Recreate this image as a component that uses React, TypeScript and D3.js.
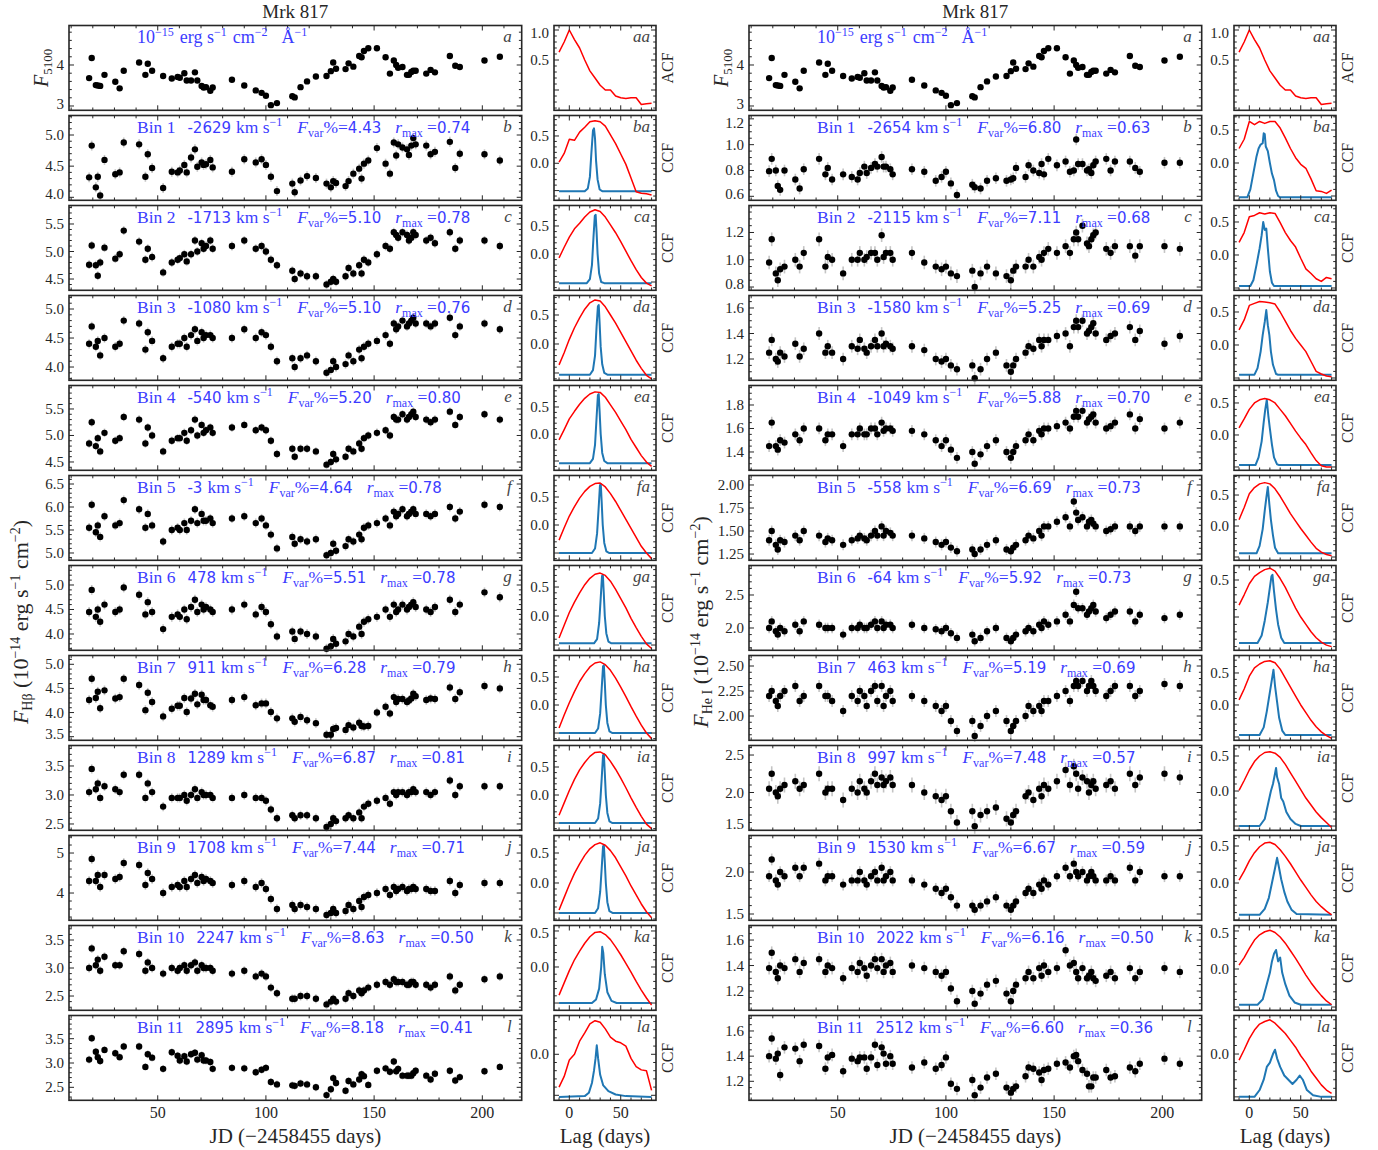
import React from 'react';
import * as d3 from 'd3';

// ---------------- DATA ----------------
const JD = [18.3,19.5,21.4,22.3,23.4,25.4,30.4,32.4,34.3,41.4,44.3,45.4,47.4,52.5,56.5,59.2,60.2,62.3,63.4,65.4,67.2,68.3,70.3,71.2,72.3,74.3,75.4,84.3,90.0,95.3,98.0,100.0,102.3,105.1,112.2,113.3,116.0,119.0,123.1,128.0,130.0,131.1,132.4,136.8,138.2,140.4,143.1,144.2,145.3,147.3,151.3,155.3,157.3,159.1,160.2,161.1,163.1,165.2,166.1,167.2,168.1,169.2,174.1,176.1,178.1,185.0,187.5,189.6,201.0,208.1];

const F5100 = [3.68,4.17,3.51,3.50,3.49,3.76,3.59,3.43,3.86,4.06,3.76,4.03,3.86,3.73,3.67,3.71,3.69,3.80,3.62,3.62,3.82,3.62,3.49,3.45,3.46,3.37,3.45,3.64,3.50,3.38,3.32,3.25,3.02,3.07,3.24,3.21,3.46,3.60,3.72,3.73,3.85,4.06,3.91,3.90,4.04,3.96,4.22,4.19,4.34,4.41,4.41,4.19,3.79,4.11,4.00,3.93,3.95,3.76,3.76,3.83,3.86,3.86,3.79,3.88,3.82,4.22,3.98,3.95,4.11,4.20];

const HB1 = [4.32,4.83,4.16,4.33,4.03,4.60,4.37,4.40,4.88,4.85,4.33,4.69,4.47,4.15,4.41,4.40,4.43,4.52,4.40,4.64,4.77,4.49,4.56,4.52,4.53,4.60,4.48,4.41,4.61,4.56,4.61,4.52,4.33,4.10,4.22,4.08,4.27,4.34,4.31,4.22,4.16,4.26,4.23,4.18,4.26,4.38,4.46,4.30,4.54,4.59,4.79,4.54,4.38,4.88,4.67,4.85,4.80,4.77,4.68,4.83,4.95,4.85,4.83,4.69,4.73,4.89,4.47,4.70,4.69,4.59];
const HB2 = [4.76,5.11,4.75,4.56,4.80,5.07,4.87,4.95,5.38,5.18,4.85,5.05,4.90,4.62,4.80,4.85,4.88,4.95,4.82,4.95,5.20,5.00,5.15,5.05,5.10,5.20,5.05,5.10,5.20,5.05,5.10,5.00,4.85,4.75,4.65,4.50,4.60,4.55,4.55,4.40,4.45,4.50,4.45,4.55,4.70,4.60,4.75,4.60,4.85,4.80,4.95,5.10,5.05,5.35,5.30,5.25,5.35,5.30,5.20,5.25,5.35,5.30,5.20,5.25,5.15,5.35,5.05,5.20,5.20,5.10];
const HB3 = [4.40,4.70,4.35,4.45,4.20,4.50,4.35,4.40,4.80,4.75,4.30,4.60,4.45,4.15,4.35,4.40,4.40,4.50,4.35,4.55,4.65,4.45,4.60,4.50,4.55,4.55,4.50,4.50,4.65,4.50,4.60,4.55,4.35,4.10,4.15,4.00,4.15,4.20,4.10,3.90,3.95,4.10,4.00,4.05,4.20,4.10,4.30,4.15,4.35,4.40,4.45,4.55,4.40,4.75,4.65,4.70,4.80,4.70,4.75,4.80,4.85,4.75,4.75,4.70,4.75,4.85,4.55,4.70,4.75,4.65];
const HB4 = [4.85,5.25,4.80,4.95,4.70,5.05,4.90,4.95,5.35,5.30,4.85,5.15,5.00,4.70,4.90,4.95,4.95,5.05,4.90,5.10,5.30,5.00,5.20,5.05,5.10,5.15,5.05,5.15,5.20,5.10,5.15,5.10,4.90,4.65,4.75,4.60,4.75,4.75,4.70,4.45,4.50,4.65,4.55,4.60,4.75,4.70,4.85,4.75,4.95,5.00,5.05,5.10,5.00,5.35,5.30,5.30,5.40,5.30,5.35,5.40,5.45,5.35,5.30,5.25,5.30,5.45,5.20,5.35,5.40,5.30];
const HB5 = [5.55,6.05,5.45,5.60,5.35,5.80,5.60,5.65,6.15,5.95,5.55,5.85,5.60,5.25,5.50,5.55,5.50,5.65,5.50,5.70,5.95,5.65,5.85,5.70,5.70,5.75,5.65,5.75,5.80,5.65,5.75,5.60,5.40,5.10,5.35,5.20,5.30,5.25,5.30,4.95,5.00,5.20,5.05,5.15,5.30,5.25,5.40,5.30,5.55,5.60,5.65,5.75,5.60,5.90,5.80,5.85,5.95,5.80,5.85,5.90,5.95,5.85,5.85,5.80,5.85,6.00,5.75,5.90,6.05,6.00];
const HB6 = [4.45,4.90,4.35,4.50,4.25,4.60,4.45,4.50,4.95,4.80,4.40,4.65,4.45,4.10,4.35,4.40,4.35,4.50,4.30,4.55,4.70,4.45,4.60,4.50,4.55,4.50,4.45,4.50,4.60,4.40,4.55,4.45,4.20,3.95,4.05,3.90,4.05,4.00,3.95,3.70,3.75,3.90,3.80,3.85,4.00,3.95,4.15,4.00,4.25,4.30,4.35,4.50,4.35,4.60,4.45,4.50,4.60,4.50,4.55,4.60,4.65,4.55,4.50,4.45,4.55,4.70,4.45,4.60,4.85,4.75];
const HB7 = [4.26,4.70,4.30,4.43,4.09,4.46,4.29,4.32,4.70,4.57,4.05,4.41,4.22,3.92,4.08,4.14,4.14,4.30,4.01,4.29,4.39,4.17,4.37,4.26,4.26,4.15,4.12,4.26,4.32,4.15,4.19,4.19,4.01,3.88,3.88,3.81,3.91,3.84,3.78,3.54,3.54,3.66,3.68,3.64,3.74,3.69,3.79,3.72,3.71,3.72,4.00,4.12,3.98,4.32,4.22,4.28,4.28,4.22,4.25,4.29,4.39,4.34,4.26,4.29,4.28,4.52,4.28,4.42,4.55,4.50];
const HB8 = [3.05,3.45,3.10,3.20,2.95,3.15,3.10,3.05,3.35,3.35,2.95,3.20,3.05,2.80,2.95,2.95,2.95,3.00,2.90,3.00,3.10,2.95,3.05,3.00,3.00,3.00,2.95,2.95,3.00,2.95,2.95,2.90,2.75,2.60,2.65,2.60,2.65,2.65,2.60,2.45,2.50,2.60,2.55,2.60,2.65,2.60,2.70,2.60,2.80,2.85,2.90,2.95,2.85,3.05,3.00,3.05,3.05,3.00,3.05,3.05,3.10,3.05,3.05,3.00,3.05,3.25,3.00,3.15,3.15,3.15];
const HB9 = [4.30,4.85,4.30,4.45,4.15,4.45,4.35,4.40,4.75,4.70,4.20,4.50,4.35,4.00,4.15,4.20,4.15,4.30,4.15,4.35,4.45,4.25,4.40,4.30,4.35,4.30,4.25,4.20,4.30,4.15,4.25,4.10,3.85,3.60,3.70,3.60,3.70,3.65,3.60,3.45,3.50,3.60,3.50,3.55,3.70,3.60,3.80,3.65,3.90,3.95,4.00,4.10,3.95,4.15,4.05,4.10,4.15,4.05,4.10,4.10,4.15,4.10,4.10,4.05,4.05,4.30,4.00,4.20,4.25,4.25];
const HB10 = [3.00,3.35,3.05,3.15,2.95,3.20,3.05,3.05,3.30,3.25,2.95,3.10,3.00,2.90,3.00,2.95,3.00,3.05,2.95,3.05,3.10,2.95,3.05,3.00,3.00,3.00,2.95,2.90,2.95,2.85,2.90,2.85,2.65,2.55,2.45,2.45,2.50,2.50,2.45,2.35,2.40,2.45,2.40,2.45,2.55,2.50,2.60,2.55,2.60,2.65,2.70,2.75,2.70,2.80,2.75,2.75,2.75,2.70,2.70,2.75,2.75,2.70,2.70,2.65,2.70,2.85,2.60,2.70,2.80,2.85];
const HB11 = [3.07,3.51,3.23,3.12,3.04,3.27,3.20,3.12,3.34,3.34,2.92,3.18,3.11,2.88,3.22,3.15,3.05,3.14,3.03,3.18,3.21,3.07,3.16,3.05,3.05,3.02,2.88,2.90,2.89,2.81,2.86,2.90,2.61,2.56,2.54,2.53,2.58,2.56,2.50,2.34,2.46,2.69,2.59,2.43,2.63,2.56,2.66,2.77,2.73,2.55,2.84,2.89,2.82,3.03,2.83,2.88,2.74,2.74,2.74,2.74,2.79,2.84,2.74,2.66,2.78,2.84,2.64,2.71,2.83,2.92];

const HE1 = [0.795,0.89,0.80,0.68,0.65,0.80,0.73,0.66,0.81,0.89,0.77,0.82,0.73,0.77,0.75,0.73,0.78,0.83,0.78,0.82,0.85,0.83,0.905,0.83,0.83,0.81,0.77,0.81,0.79,0.72,0.75,0.79,0.70,0.61,0.69,0.67,0.66,0.72,0.74,0.72,0.73,0.74,0.82,0.75,0.84,0.80,0.78,0.85,0.77,0.89,0.84,0.87,0.79,0.80,1.04,0.85,0.85,0.80,0.81,0.78,0.84,0.87,0.89,0.80,0.87,0.87,0.82,0.79,0.86,0.86];
const HE2 = [0.98,1.15,0.90,0.85,0.93,0.95,1.00,0.95,1.05,1.15,0.95,1.02,1.00,0.90,1.00,1.00,1.05,1.00,1.02,1.05,1.05,1.00,1.18,1.02,1.05,1.05,1.00,1.05,0.98,0.95,0.93,0.95,0.90,0.88,0.92,0.80,0.90,0.95,0.90,0.88,0.85,0.92,0.95,0.95,1.00,0.95,1.02,1.00,1.05,1.08,1.05,1.10,1.05,1.15,1.20,1.15,1.25,1.12,1.10,1.15,1.18,1.20,1.08,1.05,1.10,1.10,1.03,1.10,1.10,1.08];
const HE3 = [1.25,1.35,1.20,1.18,1.25,1.22,1.32,1.22,1.28,1.40,1.25,1.30,1.25,1.20,1.30,1.28,1.35,1.28,1.25,1.30,1.35,1.30,1.40,1.30,1.32,1.30,1.28,1.30,1.27,1.20,1.18,1.20,1.15,1.12,1.15,1.05,1.12,1.20,1.25,1.15,1.10,1.15,1.20,1.25,1.30,1.28,1.35,1.30,1.35,1.35,1.38,1.40,1.30,1.45,1.50,1.45,1.50,1.40,1.42,1.45,1.48,1.40,1.35,1.38,1.40,1.45,1.35,1.42,1.32,1.38];
const HE4 = [1.45,1.65,1.45,1.42,1.50,1.48,1.55,1.50,1.60,1.60,1.50,1.55,1.55,1.45,1.55,1.55,1.60,1.55,1.55,1.60,1.60,1.55,1.65,1.58,1.60,1.60,1.58,1.58,1.55,1.50,1.45,1.50,1.42,1.35,1.40,1.30,1.38,1.45,1.50,1.40,1.35,1.40,1.45,1.50,1.55,1.50,1.58,1.55,1.60,1.60,1.62,1.65,1.60,1.70,1.75,1.70,1.75,1.65,1.68,1.70,1.72,1.65,1.60,1.62,1.65,1.72,1.60,1.68,1.60,1.65];
const HE5 = [1.40,1.50,1.35,1.30,1.40,1.38,1.45,1.40,1.50,1.45,1.38,1.42,1.40,1.35,1.40,1.42,1.45,1.42,1.40,1.45,1.50,1.45,1.55,1.45,1.50,1.48,1.45,1.45,1.42,1.38,1.35,1.38,1.32,1.28,1.30,1.25,1.30,1.35,1.40,1.30,1.28,1.32,1.35,1.40,1.45,1.42,1.50,1.45,1.55,1.55,1.60,1.65,1.55,1.82,1.70,1.62,1.65,1.55,1.60,1.62,1.58,1.55,1.50,1.52,1.55,1.55,1.50,1.55,1.55,1.55];
const HE6 = [2.00,2.10,1.95,1.90,2.00,1.95,2.05,1.95,2.10,2.05,2.00,2.00,2.00,1.90,2.00,2.00,2.05,2.00,2.00,2.05,2.10,2.00,2.10,2.00,2.05,2.05,2.00,2.05,2.00,1.98,1.95,2.00,1.92,1.85,1.90,1.80,1.85,1.95,2.00,1.85,1.80,1.85,1.90,1.95,2.00,1.95,2.05,2.00,2.10,2.05,2.10,2.20,2.10,2.35,2.55,2.30,2.30,2.20,2.25,2.30,2.35,2.25,2.15,2.20,2.25,2.25,2.10,2.20,2.15,2.20];
const HE7 = [2.20,2.25,2.15,2.10,2.20,2.25,2.30,2.15,2.20,2.30,2.20,2.20,2.15,2.05,2.20,2.15,2.25,2.20,2.10,2.25,2.30,2.15,2.30,2.10,2.20,2.25,2.15,2.20,2.15,2.10,2.05,2.10,1.95,1.85,1.95,1.80,1.90,2.00,2.05,1.95,1.85,1.90,1.95,2.00,2.10,2.05,2.10,2.05,2.15,2.15,2.20,2.25,2.15,2.30,2.35,2.30,2.35,2.25,2.30,2.35,2.30,2.25,2.20,2.25,2.30,2.30,2.20,2.25,2.32,2.30];
const HE8 = [2.05,2.25,2.00,1.95,2.05,2.10,2.15,2.05,2.10,2.25,2.00,2.05,2.05,1.90,2.05,2.00,2.15,2.05,2.00,2.15,2.25,2.10,2.20,2.10,2.15,2.20,2.10,2.10,2.00,1.95,1.90,1.95,1.75,1.60,1.75,1.55,1.70,1.75,1.80,1.65,1.60,1.70,1.75,1.95,2.00,1.90,2.05,1.95,2.10,2.05,2.15,2.30,2.10,2.35,2.25,2.05,2.20,2.15,2.00,2.10,2.15,2.05,2.10,2.15,2.05,2.25,2.10,2.20,2.25,2.20];
const HE9 = [1.95,2.15,1.90,1.85,2.00,1.95,2.05,1.95,2.05,2.10,1.90,1.95,1.95,1.85,1.90,1.90,2.00,1.90,1.85,1.95,2.00,1.90,2.05,1.90,1.95,2.00,1.90,1.90,1.85,1.80,1.75,1.80,1.70,1.60,1.60,1.55,1.60,1.65,1.70,1.60,1.55,1.60,1.65,1.75,1.80,1.75,1.85,1.80,1.90,1.85,1.95,2.05,1.95,2.10,2.00,1.95,2.00,1.90,1.95,2.00,1.95,1.90,1.90,1.95,1.90,2.05,1.90,2.00,1.95,1.95];
const HE10 = [1.38,1.50,1.35,1.30,1.40,1.38,1.45,1.35,1.42,1.45,1.35,1.40,1.38,1.30,1.38,1.35,1.42,1.38,1.32,1.40,1.45,1.38,1.45,1.35,1.40,1.42,1.35,1.40,1.38,1.35,1.32,1.35,1.22,1.12,1.20,1.10,1.18,1.25,1.28,1.18,1.12,1.20,1.25,1.30,1.35,1.30,1.38,1.32,1.40,1.35,1.38,1.52,1.40,1.42,1.35,1.30,1.38,1.30,1.32,1.35,1.30,1.28,1.32,1.35,1.30,1.38,1.30,1.35,1.38,1.35];
const HE11 = [1.40,1.54,1.38,1.42,1.25,1.47,1.46,1.36,1.49,1.48,1.30,1.39,1.41,1.28,1.38,1.36,1.39,1.39,1.30,1.39,1.49,1.33,1.47,1.42,1.34,1.40,1.34,1.31,1.35,1.30,1.33,1.39,1.18,1.14,1.21,1.09,1.15,1.23,1.26,1.15,1.11,1.14,1.16,1.24,1.31,1.30,1.27,1.21,1.29,1.30,1.34,1.35,1.31,1.40,1.41,1.36,1.29,1.26,1.16,1.16,1.23,1.23,1.29,1.23,1.24,1.31,1.28,1.34,1.38,1.34];

const HB_VEL = ['-2629','-1713','-1080','-540','-3','478','911','1289','1708','2247','2895'];
const HB_FVAR = ['4.43','5.10','5.10','5.20','4.64','5.51','6.28','6.87','7.44','8.63','8.18'];
const HB_RMAX = ['0.74','0.78','0.76','0.80','0.78','0.78','0.79','0.81','0.71','0.50','0.41'];
const HE_VEL = ['-2654','-2115','-1580','-1049','-558','-64','463','997','1530','2022','2512'];
const HE_FVAR = ['6.80','7.11','5.25','5.88','6.69','5.92','5.19','7.48','6.67','6.16','6.60'];
const HE_RMAX = ['0.63','0.68','0.69','0.70','0.73','0.73','0.69','0.57','0.59','0.50','0.36'];

const LETTERS = ['a','b','c','d','e','f','g','h','i','j','k','l'];

const HB_YDOM = [[2.895,4.963],[3.952,5.313],[4.295,5.836],[3.771,5.233],[4.343,5.943],[4.841,6.685],[3.667,5.398],[3.425,5.182],[2.391,3.853],[3.318,5.438],[2.245,3.759],[2.233,3.977]];
const HB_YSTEP = [1,0.5,0.5,0.5,0.5,0.5,0.5,0.5,0.5,1,0.5,0.5];
const HB_ERR = [0.03,0.08,0.08,0.08,0.08,0.1,0.1,0.1,0.08,0.12,0.08,0.08];
const HE_YDOM = [[2.895,4.963],[0.569,1.226],[0.776,1.398],[1.033,1.698],[1.244,1.966],[1.182,2.103],[1.662,2.947],[1.757,2.605],[1.496,2.627],[1.425,2.435],[1.049,1.714],[1.049,1.723]];
const HE_YSTEP = [1,0.2,0.2,0.2,0.2,0.25,0.5,0.25,0.5,0.5,0.2,0.2];
const HE_ERR = [0.03,0.045,0.05,0.05,0.05,0.06,0.08,0.06,0.1,0.07,0.05,0.05];

const LAGS = [-10,-5,0,5,10,15,20,25,30,35,40,45,50,55,60,65,70,75,80];
const ACF = [0.63,0.80,1.0,0.84,0.70,0.50,0.32,0.20,0.08,0.0,0.0,-0.10,-0.13,-0.14,-0.13,-0.13,-0.24,-0.23,-0.22];
const HB_CCF = [
  [0.02,0.18,0.44,0.42,0.57,0.66,0.76,0.78,0.76,0.68,0.52,0.36,0.17,-0.02,-0.27,-0.52,-0.55,-0.56,-0.58],
  [-0.07,0.12,0.30,0.45,0.55,0.66,0.75,0.79,0.76,0.66,0.52,0.38,0.22,0.05,-0.12,-0.28,-0.42,-0.52,-0.57],
  [-0.36,-0.15,0.08,0.28,0.45,0.60,0.71,0.76,0.74,0.64,0.50,0.36,0.20,0.04,-0.12,-0.28,-0.42,-0.54,-0.60],
  [-0.11,0.08,0.28,0.42,0.55,0.66,0.74,0.78,0.77,0.68,0.54,0.40,0.24,0.08,-0.10,-0.25,-0.40,-0.52,-0.60],
  [-0.27,-0.05,0.16,0.33,0.48,0.60,0.69,0.74,0.75,0.68,0.56,0.42,0.26,0.10,-0.06,-0.22,-0.38,-0.50,-0.60],
  [-0.38,-0.16,0.06,0.24,0.40,0.54,0.65,0.72,0.74,0.70,0.60,0.46,0.30,0.14,-0.04,-0.20,-0.35,-0.48,-0.56],
  [-0.41,-0.18,0.04,0.24,0.42,0.56,0.68,0.75,0.77,0.72,0.62,0.48,0.32,0.15,-0.03,-0.20,-0.36,-0.50,-0.60],
  [-0.36,-0.14,0.08,0.28,0.45,0.58,0.69,0.76,0.77,0.72,0.60,0.46,0.30,0.13,-0.05,-0.22,-0.38,-0.52,-0.60],
  [-0.45,-0.24,-0.03,0.16,0.32,0.46,0.57,0.64,0.67,0.63,0.54,0.42,0.27,0.12,-0.05,-0.20,-0.35,-0.48,-0.58],
  [-0.39,-0.22,-0.05,0.10,0.22,0.33,0.42,0.48,0.49,0.45,0.38,0.28,0.17,0.05,-0.07,-0.20,-0.32,-0.43,-0.53],
  [-0.40,-0.27,-0.07,0.0,0.16,0.26,0.37,0.41,0.39,0.31,0.21,0.16,0.14,0.10,-0.05,-0.15,-0.19,-0.20,-0.44],
];
const HE_CCF = [
  [0.22,0.36,0.63,0.58,0.63,0.60,0.63,0.63,0.53,0.38,0.22,0.08,-0.02,-0.08,-0.24,-0.42,-0.43,-0.46,-0.41],
  [0.19,0.34,0.58,0.60,0.64,0.62,0.64,0.63,0.49,0.34,0.22,0.12,-0.05,-0.21,-0.28,-0.36,-0.40,-0.34,-0.36],
  [0.23,0.38,0.60,0.63,0.66,0.65,0.64,0.62,0.50,0.36,0.22,0.10,0.0,-0.10,-0.25,-0.40,-0.44,-0.47,-0.48],
  [0.11,0.25,0.40,0.50,0.55,0.57,0.55,0.50,0.40,0.30,0.18,0.06,-0.05,-0.15,-0.28,-0.40,-0.48,-0.50,-0.50],
  [0.10,0.30,0.52,0.62,0.68,0.70,0.68,0.60,0.48,0.34,0.20,0.08,-0.04,-0.15,-0.26,-0.36,-0.42,-0.46,-0.48],
  [0.16,0.30,0.45,0.55,0.60,0.64,0.66,0.62,0.52,0.40,0.26,0.12,0.0,-0.10,-0.20,-0.28,-0.34,-0.38,-0.40],
  [0.08,0.25,0.45,0.58,0.64,0.68,0.69,0.66,0.56,0.42,0.28,0.14,0.0,-0.12,-0.24,-0.34,-0.42,-0.48,-0.52],
  [0.01,0.15,0.30,0.42,0.50,0.55,0.56,0.54,0.48,0.38,0.26,0.14,0.02,-0.10,-0.20,-0.30,-0.38,-0.45,-0.52],
  [0.04,0.16,0.30,0.41,0.49,0.54,0.55,0.52,0.45,0.36,0.26,0.15,0.04,-0.06,-0.16,-0.25,-0.32,-0.38,-0.43],
  [0.05,0.15,0.27,0.38,0.45,0.49,0.51,0.48,0.42,0.34,0.24,0.14,0.03,-0.08,-0.18,-0.27,-0.35,-0.42,-0.47],
  [-0.07,0.05,0.18,0.28,0.35,0.38,0.40,0.36,0.30,0.24,0.16,0.08,-0.02,-0.10,-0.20,-0.28,-0.36,-0.42,-0.46],
];
const HB_CCCD = [
  [[-10,-0.51],[15,-0.51],[18,-0.46],[20,-0.25],[21.5,0.2],[23,0.6],[24,0.64],[25,0.45],[26,0.05],[27.5,-0.3],[29.5,-0.48],[32,-0.51],[80,-0.51]],
  [[-10,-0.52],[17,-0.52],[20,-0.45],[22,-0.2],[23.5,0.3],[24.8,0.68],[25.6,0.7],[26.5,0.4],[27.5,0.0],[29,-0.35],[31,-0.5],[34,-0.52],[80,-0.52]],
  [[-10,-0.53],[20,-0.53],[23,-0.45],[25,-0.2],[26.5,0.3],[27.8,0.65],[28.6,0.67],[29.5,0.35],[30.5,-0.05],[32,-0.35],[34,-0.5],[37,-0.53],[80,-0.53]],
  [[-10,-0.54],[20,-0.54],[23,-0.46],[25,-0.2],[26.5,0.3],[27.8,0.72],[28.6,0.74],[29.5,0.4],[30.5,0.0],[32,-0.35],[34,-0.5],[37,-0.54],[80,-0.54]],
  [[-10,-0.5],[22,-0.5],[25,-0.42],[27,-0.15],[28.5,0.3],[29.8,0.71],[30.6,0.73],[31.5,0.4],[32.5,0.0],[34,-0.32],[36,-0.47],[39,-0.5],[80,-0.5]],
  [[-10,-0.47],[24,-0.47],[27,-0.4],[29,-0.12],[30.5,0.3],[31.8,0.69],[32.6,0.71],[33.5,0.4],[34.5,0.0],[36,-0.3],[38,-0.44],[41,-0.47],[80,-0.47]],
  [[-10,-0.5],[25,-0.5],[28,-0.42],[30,-0.15],[31.5,0.3],[32.8,0.69],[33.6,0.71],[34.5,0.4],[35.5,0.0],[37,-0.32],[39,-0.47],[42,-0.5],[80,-0.5]],
  [[-10,-0.5],[25,-0.5],[28,-0.42],[30,-0.15],[31.5,0.3],[32.8,0.71],[33.6,0.73],[34.5,0.4],[35.5,0.0],[37,-0.32],[39,-0.47],[42,-0.5],[80,-0.5]],
  [[-10,-0.5],[25,-0.5],[28,-0.42],[30,-0.15],[31.5,0.25],[32.8,0.61],[33.6,0.63],[34.5,0.35],[35.5,0.0],[37,-0.32],[39,-0.47],[42,-0.5],[80,-0.5]],
  [[-10,-0.5],[22,-0.5],[26,-0.45],[29,-0.3],[31,0.0],[32,0.28],[33,0.2],[34.5,-0.1],[37,-0.35],[41,-0.47],[46,-0.5],[80,-0.5]],
  [[-10,-0.52],[15,-0.51],[19,-0.47],[22,-0.35],[24,-0.2],[25.5,-0.05],[26.7,0.11],[28,-0.05],[30,-0.25],[33,-0.38],[38,-0.45],[45,-0.49],[55,-0.51],[80,-0.52]],
];
const HE_CCCD = [
  [[-10,-0.52],[-2,-0.52],[1,-0.4],[4,-0.15],[7,0.1],[9,0.22],[11,0.28],[13,0.3],[14,0.45],[15,0.44],[16,0.25],[18,0.18],[20,0.0],[22,-0.16],[24,-0.26],[26,-0.42],[28,-0.5],[30,-0.52],[80,-0.52]],
  [[-10,-0.47],[1,-0.47],[4,-0.38],[7,-0.15],[10,0.1],[12,0.3],[13.5,0.5],[15,0.38],[16.5,0.4],[18,0.1],[20,-0.25],[22,-0.42],[24,-0.47],[80,-0.47]],
  [[-10,-0.45],[5,-0.45],[8,-0.35],[11,-0.1],[13,0.15],[15,0.35],[16.5,0.53],[18,0.3],[19.5,0.15],[21,-0.1],[23,-0.3],[26,-0.44],[28,-0.45],[80,-0.45]],
  [[-10,-0.47],[6,-0.47],[9,-0.35],[12,-0.1],[14,0.2],[15.5,0.4],[17,0.55],[18.5,0.3],[20,0.1],[22,-0.15],[24,-0.35],[27,-0.46],[29,-0.47],[80,-0.47]],
  [[-10,-0.44],[7,-0.44],[10,-0.32],[13,-0.05],[15,0.25],[16.5,0.45],[18,0.63],[19.5,0.35],[21,0.1],[23,-0.15],[25,-0.35],[28,-0.44],[80,-0.44]],
  [[-10,-0.35],[8,-0.35],[12,-0.25],[15,-0.05],[18,0.2],[20,0.4],[21.5,0.55],[22.5,0.57],[24,0.35],[26,0.1],[28,-0.1],[31,-0.28],[34,-0.35],[80,-0.35]],
  [[-10,-0.47],[10,-0.47],[14,-0.35],[17,-0.1],[20,0.2],[22,0.4],[23.5,0.55],[25,0.3],[27,0.05],[29,-0.2],[32,-0.4],[35,-0.47],[80,-0.47]],
  [[-10,-0.5],[10,-0.5],[15,-0.4],[18,-0.2],[21,0.0],[23,0.1],[25,0.25],[26,0.33],[27,0.2],[29,0.1],[31,-0.1],[33,-0.15],[36,-0.3],[40,-0.4],[45,-0.47],[50,-0.5],[80,-0.5]],
  [[-10,-0.43],[10,-0.43],[15,-0.35],[19,-0.2],[22,0.0],[25,0.2],[27,0.34],[29,0.2],[31,0.05],[34,-0.12],[37,-0.25],[41,-0.36],[46,-0.42],[80,-0.43]],
  [[-10,-0.47],[8,-0.47],[13,-0.4],[17,-0.2],[20,-0.05],[22,0.1],[24,0.2],[26,0.25],[28,0.1],[30,0.15],[32,-0.05],[35,-0.2],[39,-0.35],[44,-0.44],[50,-0.47],[80,-0.47]],
  [[-10,-0.5],[5,-0.5],[10,-0.42],[14,-0.3],[17,-0.15],[20,-0.1],[23,0.0],[25,0.05],[27,-0.05],[30,-0.15],[34,-0.25],[38,-0.3],[42,-0.35],[46,-0.3],[49,-0.25],[52,-0.3],[56,-0.42],[62,-0.48],[70,-0.5],[80,-0.5]],
];
const HB_CDOM = [[-0.338,1.075],[-0.678,0.875],[-0.648,0.866],[-0.626,0.836],[-0.672,0.898],[-0.63,0.884],[-0.591,0.871],[-0.63,0.884],[-0.63,0.884],[-0.622,0.792],[-0.601,0.576],[-0.561,0.473]];
const HE_CDOM = [[-0.338,1.075],[-0.565,0.72],[-0.535,0.75],[-0.535,0.75],[-0.552,0.773],[-0.553,0.815],[-0.45,0.696],[-0.552,0.773],[-0.561,0.65],[-0.504,0.642],[-0.543,0.572],[-0.54,0.45]];

const JD_DOMAIN = [9.0, 218.2];
const LAG_DOMAIN = [-14.9, 84.3];
const JD_TICKS = [50, 100, 150, 200];
const LAG_TICKS = [0, 50];

// ---------------- STYLE / LAYOUT ----------------
const SERIF = '"Liberation Serif", "Times New Roman", serif';
const SANS = '"DejaVu Sans", sans-serif';
const INK = '#262626';
const BLUE_TXT = '#3c3cff';
const LC_L = 69, LC_R = 521.7, CF_L = 554, CF_R = 656, SHIFT = 680;
const TOP0 = 25.5, PITCH = 90, PH = 84.8;
const TICK_FS = 15;

function tickRange(lo: number, hi: number, step: number) {
  const out: number[] = [];
  for (let k = Math.ceil(lo / step - 1e-6); k * step <= hi + 1e-9; k++) out.push(+(k * step).toFixed(6));
  return out;
}
function minorOf(step: number) {
  const e = Math.pow(10, Math.floor(Math.log10(step) + 1e-9));
  const m = Math.round((step / e) * 100) / 100;
  return step / (m === 1 || m === 5 ? 5 : 4);
}
function decs(step: number) {
  const s = String(step);
  return s.includes('.') ? s.split('.')[1].length : 0;
}
// keep a tick label inside its own panel's vertical band
function labelY(y: number, top: number, bot: number) {
  return Math.min(Math.max(y, top + 7), bot - 6) + 5;
}

function Frame({ x0, x1, top, bot, xs, ys, xTicks, xMinor, yTicks, yMinor }: any) {
  const els: any[] = [];
  const M = 5, m = 2.8;
  xTicks.forEach((v: number, i: number) => {
    const X = xs(v);
    els.push(<line key={'xb' + i} x1={X} x2={X} y1={bot} y2={bot - M} />);
    els.push(<line key={'xt' + i} x1={X} x2={X} y1={top} y2={top + M} />);
  });
  xMinor.forEach((v: number, i: number) => {
    const X = xs(v);
    els.push(<line key={'xmb' + i} x1={X} x2={X} y1={bot} y2={bot - m} />);
    els.push(<line key={'xmt' + i} x1={X} x2={X} y1={top} y2={top + m} />);
  });
  yTicks.forEach((v: number, i: number) => {
    const Y = ys(v);
    els.push(<line key={'yl' + i} x1={x0} x2={x0 + M} y1={Y} y2={Y} />);
    els.push(<line key={'yr' + i} x1={x1} x2={x1 - M} y1={Y} y2={Y} />);
  });
  yMinor.forEach((v: number, i: number) => {
    const Y = ys(v);
    els.push(<line key={'yml' + i} x1={x0} x2={x0 + m} y1={Y} y2={Y} />);
    els.push(<line key={'ymr' + i} x1={x1} x2={x1 - m} y1={Y} y2={Y} />);
  });
  return (
    <g stroke={INK} strokeWidth={1}>
      {els}
      <rect x={x0} y={top} width={x1 - x0} height={bot - top} fill="none" strokeWidth={1.6} />
    </g>
  );
}

function Annot({ x, y, bin, vel, fvar, rmax }: any) {
  return (
    <text x={x} y={y} fill={BLUE_TXT} fontFamily={SERIF} fontSize={17.5}>
      <tspan>{'Bin ' + bin}</tspan>
      <tspan dx={12} fontFamily={SANS} fontSize={15}>{vel}</tspan>
      <tspan dx={5}>km s</tspan>
      <tspan fontSize={12} dy={-7}>−1</tspan>
      <tspan dy={7} dx={15} fontStyle="italic">F</tspan>
      <tspan fontSize={12} dy={4}>var</tspan>
      <tspan dy={-4}>%=</tspan>
      <tspan fontFamily={SANS} fontSize={15}>{fvar}</tspan>
      <tspan dx={14} fontStyle="italic">r</tspan>
      <tspan fontSize={12} dy={4}>max</tspan>
      <tspan dy={-4}>{' ='}</tspan>
      <tspan fontFamily={SANS} fontSize={15}>{rmax}</tspan>
    </text>
  );
}

function LCPanel({ off, row, vals, dom, step, err, annot, bottom }: any) {
  const top = TOP0 + row * PITCH, bot = top + PH;
  const xs = d3.scaleLinear().domain(JD_DOMAIN).range([LC_L + off, LC_R + off]);
  const ys = d3.scaleLinear().domain(dom).range([bot, top]);
  const yT = tickRange(dom[0], dom[1], step);
  const yM = tickRange(dom[0], dom[1], minorOf(step)).filter(v => !yT.some(t => Math.abs(t - v) < 1e-6));
  const xT = tickRange(JD_DOMAIN[0], JD_DOMAIN[1], 50);
  const xM = tickRange(JD_DOMAIN[0], JD_DOMAIN[1], 10).filter(v => v % 50 !== 0);
  const d = decs(step);
  return (
    <g>
      <g stroke="#c4c4c4" strokeWidth={1.6}>
        {vals.map((v: number, i: number) => (
          <line key={i} x1={xs(JD[i])} x2={xs(JD[i])} y1={ys(v - err)} y2={ys(v + err)} />
        ))}
      </g>
      <g fill="#000">
        {vals.map((v: number, i: number) => (
          <circle key={i} cx={xs(JD[i])} cy={ys(v)} r={3.2} />
        ))}
      </g>
      <Frame x0={LC_L + off} x1={LC_R + off} top={top} bot={bot} xs={xs} ys={ys} xTicks={xT} xMinor={xM} yTicks={yT} yMinor={yM} />
      <g fill={INK} fontFamily={SERIF} fontSize={TICK_FS} textAnchor="end">
        {yT.map((v, i) => (
          <text key={i} x={LC_L + off - 5} y={labelY(ys(v), top, bot)}>{v.toFixed(d)}</text>
        ))}
      </g>
      {bottom && (
        <g fill={INK} fontFamily={SERIF} fontSize={16} textAnchor="middle">
          {JD_TICKS.map((v, i) => (
            <text key={i} x={xs(v)} y={bot + 18}>{v}</text>
          ))}
        </g>
      )}
      <text x={LC_R + off - 10} y={top + 16} fontFamily={SERIF} fontStyle="italic" fontSize={17} fill="#444" textAnchor="end">{LETTERS[row]}</text>
      {annot}
    </g>
  );
}

function CCFPanel({ off, row, red, blue, dom, bottom, acf }: any) {
  const top = TOP0 + row * PITCH, bot = top + PH;
  const xs = d3.scaleLinear().domain(LAG_DOMAIN).range([CF_L + off, CF_R + off]);
  const ys = d3.scaleLinear().domain(dom).range([bot, top]);
  const yT = tickRange(dom[0], dom[1], 0.5);
  const yM = tickRange(dom[0], dom[1], 0.1).filter(v => !yT.some(t => Math.abs(t - v) < 1e-6));
  const xT = tickRange(LAG_DOMAIN[0], LAG_DOMAIN[1], 50);
  const xM = tickRange(LAG_DOMAIN[0], LAG_DOMAIN[1], 10).filter(v => v % 50 !== 0);
  const redLine = d3.line<number>().x((_, i) => xs(LAGS[i])).y(v => ys(v));
  const blueLine = d3.line<number[]>().x(p => xs(p[0])).y(p => ys(p[1]));
  const labels = yT.slice(1);
  return (
    <g>
      {blue && <path d={blueLine(blue) || ''} fill="none" stroke="#1f77b4" strokeWidth={2} strokeLinejoin="round" />}
      <path d={redLine(red) || ''} fill="none" stroke="#ff0000" strokeWidth={1.5} strokeLinejoin="round" />
      <Frame x0={CF_L + off} x1={CF_R + off} top={top} bot={bot} xs={xs} ys={ys} xTicks={xT} xMinor={xM} yTicks={yT} yMinor={yM} />
      <g fill={INK} fontFamily={SERIF} fontSize={TICK_FS} textAnchor="end">
        {labels.map((v, i) => (
          <text key={i} x={CF_L + off - 5} y={labelY(ys(v), top, bot)}>{v.toFixed(1)}</text>
        ))}
      </g>
      {bottom && (
        <g fill={INK} fontFamily={SERIF} fontSize={16} textAnchor="middle">
          {LAG_TICKS.map((v, i) => (
            <text key={i} x={xs(v)} y={bot + 18}>{v}</text>
          ))}
        </g>
      )}
      <text x={CF_R + off - 6} y={top + 16} fontFamily={SERIF} fontStyle="italic" fontSize={17} fill="#444" textAnchor="end">{LETTERS[row] + 'a'}</text>
      <text transform={`translate(${CF_R + off + 17},${top + PH / 2}) rotate(-90)`} fontFamily={SERIF} fontSize={16} fill={INK} textAnchor="middle">{acf ? 'ACF' : 'CCF'}</text>
    </g>
  );
}

function Column({ off, bins, ydom, ystep, err, vel, fvar, rmax, ccf, cccd, cdom, lineName }: any) {
  const panels: any[] = [];
  for (let r = 0; r < 12; r++) {
    const top = TOP0 + r * PITCH;
    const annot = r === 0 ? (
      <text x={LC_L + off + 68} y={top + 17} fill={BLUE_TXT} fontFamily={SERIF} fontSize={18}>
        <tspan>10</tspan><tspan fontSize={12} dy={-7}>−15</tspan>
        <tspan dy={7} dx={6}>erg s</tspan><tspan fontSize={12} dy={-7}>−1</tspan>
        <tspan dy={7} dx={6}>cm</tspan><tspan fontSize={12} dy={-7}>−2</tspan>
        <tspan dy={7} dx={14}>Å</tspan><tspan fontSize={12} dy={-7}>−1</tspan>
      </text>
    ) : (
      <Annot x={LC_L + off + 68} y={top + 17} bin={r} vel={vel[r - 1]} fvar={fvar[r - 1]} rmax={rmax[r - 1]} />
    );
    panels.push(
      <LCPanel key={'lc' + r} off={off} row={r} vals={r === 0 ? F5100 : bins[r - 1]} dom={ydom[r]} step={ystep[r]} err={err[r]} annot={annot} bottom={r === 11} />
    );
    panels.push(
      <CCFPanel key={'cf' + r} off={off} row={r} red={r === 0 ? ACF : ccf[r - 1]} blue={r === 0 ? null : cccd[r - 1]} dom={cdom[r]} bottom={r === 11} acf={r === 0} />
    );
  }
  const midLC = (LC_L + LC_R) / 2 + off;
  const midCF = (CF_L + CF_R) / 2 + off;
  return (
    <g>
      {panels}
      <text x={midLC} y={18} textAnchor="middle" fontFamily={SERIF} fontSize={19} fill={INK}>Mrk 817</text>
      <text x={midLC} y={1143} textAnchor="middle" fontFamily={SERIF} fontSize={21} fill={INK}>JD (−2458455 days)</text>
      <text x={midCF} y={1143} textAnchor="middle" fontFamily={SERIF} fontSize={21} fill={INK}>Lag (days)</text>
      <text transform={`translate(${off + 48},${TOP0 + PH / 2}) rotate(-90)`} textAnchor="middle" fontFamily={SERIF} fontSize={20} fill={INK}>
        <tspan fontStyle="italic">F</tspan><tspan fontSize={13} dy={4}>5100</tspan>
      </text>
      <text transform={`translate(${off + 28},622) rotate(-90)`} textAnchor="middle" fontFamily={SERIF} fontSize={22} fill={INK}>
        <tspan fontStyle="italic">F</tspan><tspan fontSize={14} dy={4}>{lineName}</tspan>
        <tspan dy={-4}>{' (10'}</tspan><tspan fontSize={14} dy={-8}>−14</tspan>
        <tspan dy={8}>{' erg s'}</tspan><tspan fontSize={14} dy={-8}>−1</tspan>
        <tspan dy={8}>{' cm'}</tspan><tspan fontSize={14} dy={-8}>−2</tspan>
        <tspan dy={8}>)</tspan>
      </text>
    </g>
  );
}

export default function App() {
  return (
    <svg width={1378} height={1150} style={{ position: 'absolute', left: 0, top: 0, background: '#fff' }}>
      <rect width={1378} height={1150} fill="#fff" />
      <Column off={0} bins={[HB1, HB2, HB3, HB4, HB5, HB6, HB7, HB8, HB9, HB10, HB11]} ydom={HB_YDOM} ystep={HB_YSTEP} err={HB_ERR}
        vel={HB_VEL} fvar={HB_FVAR} rmax={HB_RMAX} ccf={HB_CCF} cccd={HB_CCCD} cdom={HB_CDOM} lineName="Hβ" />
      <Column off={SHIFT} bins={[HE1, HE2, HE3, HE4, HE5, HE6, HE7, HE8, HE9, HE10, HE11]} ydom={HE_YDOM} ystep={HE_YSTEP} err={HE_ERR}
        vel={HE_VEL} fvar={HE_FVAR} rmax={HE_RMAX} ccf={HE_CCF} cccd={HE_CCCD} cdom={HE_CDOM} lineName="He I" />
    </svg>
  );
}
